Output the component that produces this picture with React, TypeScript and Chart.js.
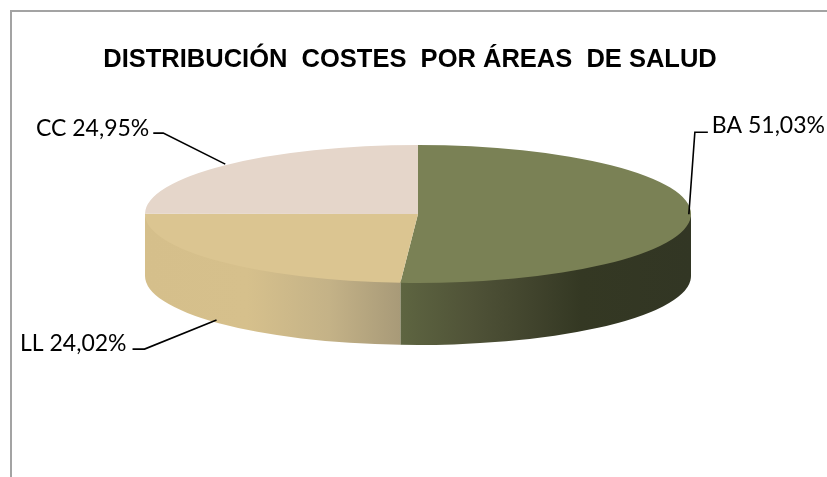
import React, { useEffect, useRef } from "react";
import { Chart, registerables } from "chart.js";

Chart.register(...registerables);

const titleText = "DISTRIBUCIÓN  COSTES  POR ÁREAS  DE SALUD";
const categories = ["BA", "LL", "CC"];
const shares = [51.03, 24.02, 24.95];
const topColors = ["#7a8155", "#dbc591", "#e5d6ca"];
const sideStops: [number, string][][] = [
  [[0, "#5e6541"], [0.25, "#4f5237"], [0.45, "#41442d"], [0.62, "#343823"], [1, "#323624"]],
  [[0, "#d5bf8b"], [0.4, "#d6c08c"], [0.72, "#c4b287"], [1, "#a89a78"]],
  [],
];
const leaderOffsets: [number, number][][] = [
  [[-2, -2], [4, -84], [17, -84]],
  [[-2, -3], [-74, 26], [-86, 26]],
  [[0, -1], [-62, -32], [-72, -32]],
];
const labelOffsets: [number, number, CanvasTextAlign][] = [
  [21, -91, "left"],
  [-92, 20, "right"],
  [-76, -37, "right"],
];

const pieRadius = 273;
const squash = 69 / 273;
const depth = 62;
const titleCentre = 410;

function arcGeometry(el: any) {
  return { cx: el.x, cy: el.y, r: el.outerRadius, a0: el.startAngle, a1: el.endAngle };
}

const pie3d = {
  id: "pie3d",
  afterLayout(chart: any) {
    if (chart.titleBlock) {
      chart.titleBlock.left = 0;
      chart.titleBlock.right = titleCentre * 2;
    }
  },
  beforeDatasetsDraw(chart: any) {
    const ctx = chart.ctx;
    chart.getDatasetMeta(0).data.forEach((el: any, i: number) => {
      const { cx, cy, r, a0, a1 } = arcGeometry(el);
      const from = Math.max(a0, 0);
      const to = Math.min(a1, Math.PI);
      if (to <= from || sideStops[i].length === 0) return;
      const xa = cx + r * Math.cos(from);
      const xb = cx + r * Math.cos(to);
      const grad = ctx.createLinearGradient(Math.min(xa, xb), 0, Math.max(xa, xb), 0);
      sideStops[i].forEach(([p, c]) => grad.addColorStop(p, c));
      ctx.save();
      ctx.beginPath();
      ctx.ellipse(cx, cy - 2, r, r * squash, 0, from, to);
      ctx.ellipse(cx, cy + depth, r, r * squash, 0, to, from, true);
      ctx.closePath();
      ctx.fillStyle = grad;
      ctx.fill();
      ctx.restore();
    });
  },
  beforeDatasetDraw(chart: any) {
    const ctx = chart.ctx;
    const el = chart.getDatasetMeta(0).data[0];
    ctx.save();
    ctx.translate(el.x, el.y);
    ctx.scale(1, squash);
    ctx.translate(-el.x, -el.y);
  },
  afterDatasetDraw(chart: any) {
    chart.ctx.restore();
  },
  afterDatasetsDraw(chart: any) {
    const ctx = chart.ctx;
    chart.getDatasetMeta(0).data.forEach((el: any, i: number) => {
      const { cx, cy, r, a0, a1 } = arcGeometry(el);
      const mid = (a0 + a1) / 2;
      const s = Math.sin(mid);
      const ax = cx + r * Math.cos(mid);
      const ay = cy + r * squash * s + (s > 0.2 ? depth : 0);
      ctx.save();
      ctx.beginPath();
      leaderOffsets[i].forEach(([dx, dy], k) => {
        if (k === 0) ctx.moveTo(ax + dx, ay + dy);
        else ctx.lineTo(ax + dx, ay + dy);
      });
      ctx.strokeStyle = "#000000";
      ctx.lineWidth = 1.6;
      ctx.stroke();
      const [lx, ly, align] = labelOffsets[i];
      ctx.fillStyle = "#000000";
      ctx.font = "23px Lato";
      ctx.textAlign = align;
      ctx.textBaseline = "middle";
      const txt = `${categories[i]} ${shares[i].toFixed(2).replace(".", ",")}%`;
      ctx.fillText(txt, ax + lx, ay + ly);
      ctx.restore();
    });
  },
};

export default function App() {
  const ref = useRef<HTMLCanvasElement | null>(null);
  useEffect(() => {
    const chart = new Chart(ref.current as HTMLCanvasElement, {
      type: "pie",
      data: {
        labels: categories,
        datasets: [
          {
            data: shares,
            backgroundColor: topColors,
            borderWidth: 0,
            clip: false,
          } as any,
        ],
      },
      options: {
        animation: false,
        responsive: false,
        events: [],
        radius: pieRadius,
        layout: { padding: { left: 145, right: 136, top: 0, bottom: 129 } },
        plugins: {
          legend: { display: false },
          tooltip: { enabled: false },
          title: {
            display: true,
            text: titleText,
            color: "#000000",
            font: { family: "'Liberation Sans'", size: 25.5, weight: "bold" },
            padding: { top: 45, bottom: 4.4 },
          },
        },
      } as any,
      plugins: [pie3d],
    });
    return () => chart.destroy();
  }, []);
  return (
    <div style={{ position: "fixed", left: 0, top: 0, width: 827, height: 477, background: "#fff", overflow: "hidden" }}>
      <div
        style={{
          position: "absolute",
          left: 10,
          top: 10,
          right: 0,
          bottom: 0,
          borderLeft: "2px solid #a3a3a3",
          borderTop: "2px solid #a3a3a3",
        }}
      />
      <canvas ref={ref} width={827} height={477} style={{ position: "absolute", left: 0, top: 0 }} />
    </div>
  );
}
